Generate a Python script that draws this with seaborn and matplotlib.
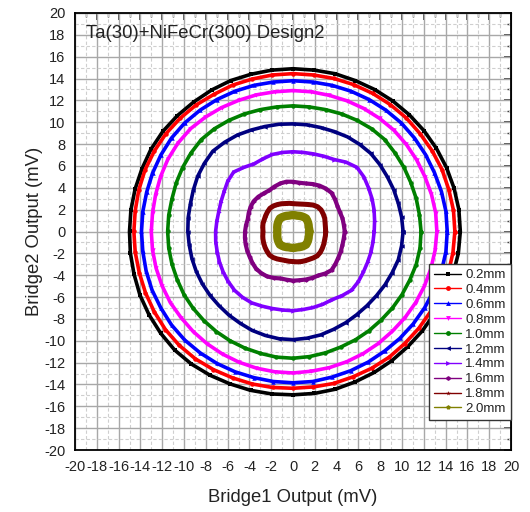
import numpy as np
import pandas as pd
import matplotlib
matplotlib.use("Agg")
import matplotlib.pyplot as plt
from matplotlib.ticker import MultipleLocator
import seaborn as sns

# Sampling angles (degrees) at which each loop radius was recorded
angles_deg = [i * 7.5 for i in range(48)]

labels = ["0.2mm", "0.4mm", "0.6mm", "0.8mm", "1.0mm",
          "1.2mm", "1.4mm", "1.6mm", "1.8mm", "2.0mm"]

# Loop radius (mV) at each angle, one list per gap
r_02 = [15.35, 15.35, 15.3, 15.25, 15.2, 15.15, 15.1, 15.05, 15.0, 14.95, 14.95, 14.9,
        14.9, 14.9, 14.9, 14.95, 14.95, 14.95, 15.0, 15.05, 15.05, 15.0, 15.0, 15.0,
        15.0, 15.05, 15.1, 15.2, 15.25, 15.3, 15.35, 15.3, 15.2, 15.1, 15.05, 15.0,
        14.95, 14.95, 14.95, 14.9, 14.9, 14.9, 14.9, 14.95, 15.0, 15.1, 15.2, 15.3]
r_04 = [14.85, 14.85, 14.8, 14.8, 14.75, 14.7, 14.7, 14.65, 14.6, 14.55, 14.5, 14.45,
        14.45, 14.45, 14.45, 14.5, 14.5, 14.6, 14.65, 14.7, 14.7, 14.7, 14.65, 14.6,
        14.6, 14.6, 14.6, 14.65, 14.7, 14.75, 14.75, 14.7, 14.6, 14.5, 14.45, 14.4,
        14.35, 14.35, 14.4, 14.4, 14.45, 14.5, 14.5, 14.55, 14.6, 14.7, 14.75, 14.8]
r_06 = [14.15, 14.15, 14.1, 14.05, 14.05, 14.05, 14.05, 14.0, 13.95, 13.9, 13.85, 13.8,
        13.8, 13.8, 13.85, 13.9, 13.95, 14.0, 14.05, 14.05, 14.0, 13.95, 13.9, 13.9,
        13.9, 13.9, 13.95, 14.0, 14.0, 14.05, 14.05, 14.0, 13.95, 13.9, 13.85, 13.85,
        13.85, 13.85, 13.8, 13.8, 13.8, 13.8, 13.85, 13.9, 13.95, 14.0, 14.1, 14.15]
r_08 = [13.2, 13.2, 13.15, 13.1, 13.1, 13.1, 13.1, 13.05, 13.0, 12.95, 12.9, 12.9,
        12.9, 12.9, 12.95, 13.0, 13.1, 13.2, 13.3, 13.3, 13.25, 13.15, 13.05, 13.0,
        13.0, 13.0, 13.0, 13.0, 13.0, 12.95, 12.95, 12.95, 12.95, 12.95, 12.95, 12.95,
        12.95, 12.9, 12.9, 12.9, 12.9, 12.9, 12.9, 12.95, 13.0, 13.05, 13.1, 13.15]
r_10 = [11.75, 11.7, 11.7, 11.7, 11.75, 11.8, 11.9, 11.85, 11.75, 11.65, 11.55, 11.5,
        11.5, 11.5, 11.55, 11.65, 11.75, 11.85, 11.9, 11.8, 11.7, 11.6, 11.5, 11.5,
        11.5, 11.5, 11.5, 11.5, 11.55, 11.55, 11.55, 11.55, 11.55, 11.55, 11.55, 11.6,
        11.6, 11.55, 11.5, 11.45, 11.45, 11.45, 11.45, 11.5, 11.55, 11.6, 11.7, 11.75]
r_12 = [10.1, 10.05, 10.0, 10.0, 10.0, 10.05, 10.1, 10.05, 10.0, 9.9, 9.85, 9.85,
        9.85, 9.9, 9.95, 10.05, 10.2, 10.3, 10.4, 10.25, 10.1, 9.9, 9.75, 9.7,
        9.65, 9.6, 9.6, 9.6, 9.6, 9.6, 9.6, 9.65, 9.7, 9.8, 9.85, 9.9,
        9.9, 9.85, 9.8, 9.7, 9.65, 9.6, 9.6, 9.65, 9.75, 9.85, 10.0, 10.05]
r_14 = [7.45, 7.55, 7.7, 7.85, 8.0, 8.2, 8.3, 8.0, 7.6, 7.45, 7.35, 7.3,
        7.3, 7.3, 7.3, 7.2, 7.15, 7.4, 7.7, 7.55, 7.3, 7.15, 7.05, 7.05,
        7.1, 7.15, 7.2, 7.3, 7.4, 7.5, 7.6, 7.6, 7.55, 7.4, 7.3, 7.25,
        7.25, 7.2, 7.2, 7.2, 7.2, 7.4, 7.6, 7.55, 7.45, 7.4, 7.4, 7.4]
r_16 = [4.75, 4.7, 4.7, 4.65, 4.7, 4.85, 5.0, 4.95, 4.85, 4.7, 4.55, 4.5,
        4.55, 4.6, 4.55, 4.45, 4.35, 4.4, 4.5, 4.55, 4.5, 4.4, 4.3, 4.35,
        4.4, 4.45, 4.5, 4.55, 4.6, 4.7, 4.8, 4.8, 4.75, 4.6, 4.45, 4.45,
        4.5, 4.5, 4.55, 4.6, 4.65, 4.85, 5.0, 4.9, 4.8, 4.75, 4.7, 4.7]
r_18 = [3.0, 3.0, 3.05, 3.15, 3.2, 3.25, 3.2, 3.05, 2.85, 2.7, 2.6, 2.55,
        2.55, 2.6, 2.65, 2.75, 2.85, 2.95, 3.0, 2.95, 2.9, 2.85, 2.85, 2.8,
        2.75, 2.8, 2.85, 2.9, 2.95, 3.0, 3.05, 3.0, 2.9, 2.8, 2.75, 2.75,
        2.75, 2.8, 2.85, 2.9, 2.95, 3.05, 3.15, 3.15, 3.1, 3.05, 3.0, 3.0]
r_20 = [1.5, 1.5, 1.5, 1.55, 1.6, 1.65, 1.7, 1.65, 1.6, 1.55, 1.5, 1.5,
        1.5, 1.5, 1.5, 1.55, 1.6, 1.65, 1.7, 1.65, 1.6, 1.55, 1.5, 1.45,
        1.45, 1.45, 1.5, 1.55, 1.6, 1.65, 1.7, 1.65, 1.6, 1.55, 1.5, 1.5,
        1.5, 1.5, 1.5, 1.55, 1.6, 1.65, 1.7, 1.65, 1.6, 1.55, 1.5, 1.5]

radii = [r_02, r_04, r_06, r_08, r_10, r_12, r_14, r_16, r_18, r_20]
assert all(len(r) == len(angles_deg) for r in radii)

colors = ["#000000", "#ff0000", "#0000ff", "#ff00ff", "#008000",
          "#000080", "#8000ff", "#800080", "#800000", "#808000"]
markers = ["s", "o", "^", "v", "o", "<", ">", "h", "*", "p"]
widths = [2.6, 2.6, 2.6, 2.6, 2.6, 2.6, 2.6, 3.0, 3.6, 6.0]

# Long-form table of closed loops (Bridge1, Bridge2)
rows = []
theta = np.deg2rad(angles_deg + [angles_deg[0]])
for lab, r in zip(labels, radii):
    rr = np.array(r + [r[0]])
    for i, (t, v) in enumerate(zip(theta, rr)):
        rows.append({"gap": lab, "idx": i, "b1": v * np.cos(t), "b2": v * np.sin(t)})
df = pd.DataFrame(rows)

sns.set_style("white")
plt.rcParams["font.family"] = ["Liberation Sans", "DejaVu Sans"]
plt.rcParams["axes.unicode_minus"] = False

fig = plt.figure(figsize=(5.30, 5.12), dpi=100)
ax = fig.add_axes([75 / 530, 62 / 512, 436 / 530, 437 / 512])

handles = []
for lab, col, mk, lw in zip(labels, colors, markers, widths):
    sub = df[df["gap"] == lab]
    sns.lineplot(data=sub, x="b1", y="b2", sort=False, estimator=None,
                 color=col, linewidth=lw, marker=mk, markersize=3.2,
                 markeredgewidth=0, ax=ax, zorder=3)
    h, = ax.plot([], [], color=col, linewidth=1.0, marker=mk, markersize=3.5,
                 markeredgewidth=0)
    handles.append(h)

ax.set_xlim(-20, 20)
ax.set_ylim(-20, 20)
ax.xaxis.set_major_locator(MultipleLocator(2))
ax.yaxis.set_major_locator(MultipleLocator(2))
ax.xaxis.set_minor_locator(MultipleLocator(1))
ax.yaxis.set_minor_locator(MultipleLocator(1))

ax.grid(which="major", color="#a8a8a8", linewidth=1.0, linestyle="-", zorder=0)
ax.grid(which="minor", color="#cfcfcf", linewidth=0.8, linestyle=(0, (3, 2)), zorder=0)
ax.set_axisbelow(True)

for s in ax.spines.values():
    s.set_color("black")
    s.set_linewidth(1.3)

ax.tick_params(axis="both", which="major", direction="out", length=5, width=1.1,
               labelsize=10.5, colors="black", labelcolor="#222222", pad=2)
ax.tick_params(axis="both", which="minor", direction="out", length=3, width=1.0)
# inward ticks on the top and right edges
ax2 = ax.secondary_xaxis("top")
ax2.xaxis.set_major_locator(MultipleLocator(2))
ax2.xaxis.set_minor_locator(MultipleLocator(1))
ax2.tick_params(which="major", direction="in", length=5, width=1.1, labeltop=False)
ax2.tick_params(which="minor", direction="in", length=3, width=1.0)
ax3 = ax.secondary_yaxis("right")
ax3.yaxis.set_major_locator(MultipleLocator(2))
ax3.yaxis.set_minor_locator(MultipleLocator(1))
ax3.tick_params(which="major", direction="in", length=5, width=1.1, labelright=False)
ax3.tick_params(which="minor", direction="in", length=3, width=1.0)

ax.set_xlabel("Bridge1 Output (mV)", fontsize=13.3, color="#222222", labelpad=11)
ax.set_ylabel("Bridge2 Output (mV)", fontsize=13.3, color="#222222", labelpad=1)

ax.text(-19.0, 18.1, "Ta(30)+NiFeCr(300) Design2", fontsize=13.3, color="#222222",
        va="center", ha="left")

leg = ax.legend(handles, labels, loc="lower right", bbox_to_anchor=(1.0, 0.068),
                fontsize=9.5, frameon=True, fancybox=False, edgecolor="#333333",
                framealpha=1.0, handlelength=2.05, handletextpad=0.3,
                labelspacing=0.2, borderpad=0.4, borderaxespad=0.0)
leg.get_frame().set_linewidth(1.0)
for t in leg.get_texts():
    t.set_color("#222222")

fig.savefig("out.png", dpi=100)
